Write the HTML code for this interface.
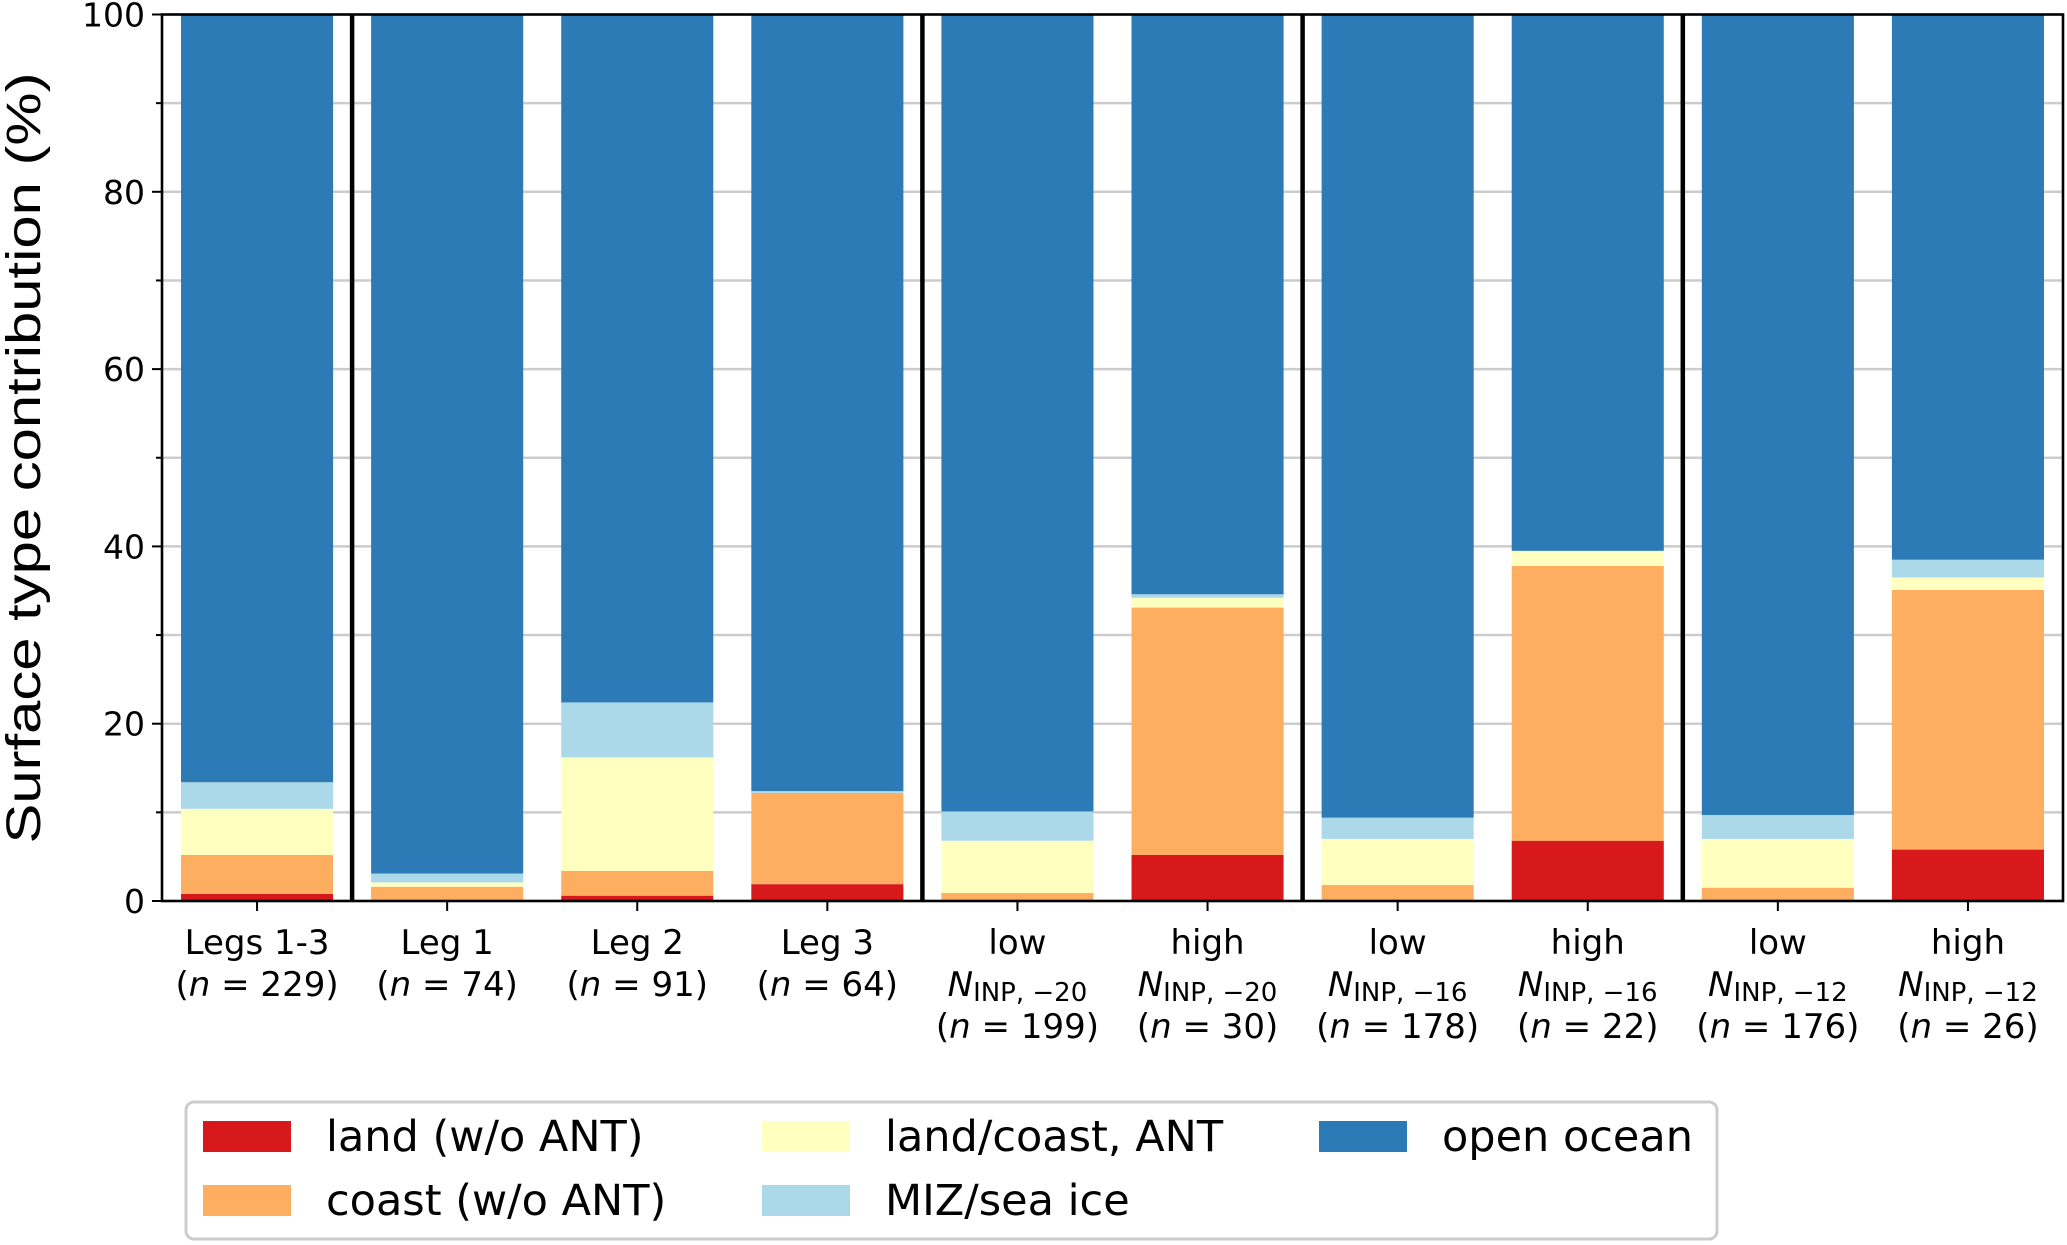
<!DOCTYPE html>
<html><head><meta charset="utf-8"><style>
html,body{margin:0;padding:0;background:#fff;}
svg{display:block;font-family:"DejaVu Sans","Liberation Sans",sans-serif;}
</style></head><body>
<svg id="chart" width="2067" height="1245" viewBox="0 0 2067 1245" xmlns="http://www.w3.org/2000/svg">
<g id="grid"></g>
<g id="bars"></g>
<g id="axes"></g>
<text transform="translate(40,458) rotate(-90)" text-anchor="middle" font-family="Liberation Sans, sans-serif" font-size="48" textLength="771" lengthAdjust="spacingAndGlyphs" fill="#000">Surface type contribution (%)</text>
<g id="xlabels"></g>
<g>
  <rect x="186" y="1102" width="1531" height="137" rx="8" fill="#fff" stroke="#ccc" stroke-width="3"/>
  <g id="legend-items"></g>
</g>
</svg>
<script>
const categories = ["Legs 1-3","Leg 1","Leg 2","Leg 3","low","high","low","high","low","high"];
const catLine2 = ["(n = 229)","(n = 74)","(n = 91)","(n = 64)","-20","-20","-16","-16","-12","-12"];
const catCounts = [229,74,91,64,199,30,178,22,176,26];
const landVals  = [0.8,0.1,0.6,1.9,0.1,5.2,0.1,6.8,0.1,5.8];
const coastVals = [4.4,1.5,2.8,10.3,0.8,27.9,1.7,31.0,1.4,29.3];
const antVals   = [5.2,0.5,12.8,0.0,5.9,1.1,5.2,1.7,5.5,1.4];
const mizVals   = [3.0,1.0,6.2,0.2,3.3,0.4,2.4,0.0,2.7,2.0];
const oceanVals = landVals.map((v,i)=>100-v-coastVals[i]-antVals[i]-mizVals[i]);
const yTicks = [0,20,40,60,80,100];
const seriesNames = ["land (w/o ANT)","coast (w/o ANT)","land/coast, ANT","MIZ/sea ice","open ocean"];
const separators = [0.5,3.5,5.5,7.5];

const NS="http://www.w3.org/2000/svg";
const L=162,R=2063,T=14.5,B=901;
const xS=v=>L+(v+0.5)/10*(R-L);
const yS=v=>B-v/100*(B-T);
const bw=0.8*(R-L)/10;
function mk(tag,attrs,parent){const e=document.createElementNS(NS,tag);for(const k in attrs)e.setAttribute(k,attrs[k]);parent.appendChild(e);return e;}
const grid=document.getElementById('grid'),bars=document.getElementById('bars'),axes=document.getElementById('axes'),xl=document.getElementById('xlabels');
for(let v=10;v<100;v+=10){
  const g=mk('line',{x1:L,x2:R,y1:yS(v),y2:yS(v),stroke:'#cccccc','stroke-width':2.5},grid);
  
  
}
const colors=["#d7191c","#fdae61","#ffffbf","#abd9e9","#2c7bb6"];
const series=[landVals,coastVals,antVals,mizVals,oceanVals];
const keys=["land","coast","ant","miz","ocean"];
categories.forEach((c,i)=>{
  let base=0;
  series.forEach((s,k)=>{
    const v=s[i];
    const r=mk('rect',{x:xS(i)-bw/2,y:yS(base+v),width:bw,height:Math.max(0,yS(base)-yS(base+v)),fill:colors[k]},bars);
    
    
    base+=v;
  });
});
separators.forEach(s=>{
  const l=mk('line',{x1:xS(s),x2:xS(s),y1:T,y2:B,stroke:'#000','stroke-width':4.5},axes);
  
  
});
const fr=mk('rect',{x:L,y:T,width:R-L,height:B-T,fill:'none',stroke:'#000','stroke-width':2.6},axes);


for(let v=0;v<=100;v+=10){
  const t=mk('line',{x1:L-(v%20===0?10:6),x2:L,y1:yS(v),y2:yS(v),stroke:'#000','stroke-width':2},axes);
  
  
}
yTicks.forEach(v=>{
  const t=mk('text',{x:L-17,y:yS(v)+12,'text-anchor':'end','font-size':33,fill:'#000'},axes);
  t.textContent=String(v);
  
  
});
categories.forEach((c,i)=>{
  const x=xS(i);
  const tk=mk('line',{x1:x,x2:x,y1:B,y2:B+10,stroke:'#000','stroke-width':2},axes);
  
  
  const t1=mk('text',{x:x,y:954,'text-anchor':'middle','font-size':34,fill:'#000'},xl);
  t1.textContent=c;
  
  
  let nLineY=996;
  if(i>=4){
    const t2=mk('text',{x:x,y:996,'text-anchor':'middle','font-size':34,fill:'#000'},xl);
    
    
    const a=document.createElementNS(NS,'tspan');a.setAttribute('font-style','italic');a.textContent='N';t2.appendChild(a);
    const b=document.createElementNS(NS,'tspan');b.setAttribute('font-size','26');b.setAttribute('dy','5');b.textContent='INP, \u2212'+catLine2[i].replace('-','');t2.appendChild(b);
    nLineY=1038;
  }
  const t3=mk('text',{x:x,y:nLineY,'text-anchor':'middle','font-size':34,fill:'#000'},xl);
  
  
  const p1=document.createElementNS(NS,'tspan');p1.textContent='(';t3.appendChild(p1);
  const p2=document.createElementNS(NS,'tspan');p2.setAttribute('font-style','italic');p2.textContent='n';t3.appendChild(p2);
  const p3=document.createElementNS(NS,'tspan');p3.textContent=' = '+catCounts[i]+')';t3.appendChild(p3);
});
const li=document.getElementById('legend-items');
const legPos=[[203,1136],[203,1200],[762,1136],[762,1200],[1319,1136]];
seriesNames.forEach((n,k)=>{
  const [px,py]=legPos[k];
  const r=mk('rect',{x:px,y:py-15,width:88,height:31,fill:colors[k]},li);
  
  
  const t=mk('text',{x:px+123,y:py+15,'font-size':43,fill:'#000'},li);
  t.textContent=n;
  
  
});
</script>
</body></html>
